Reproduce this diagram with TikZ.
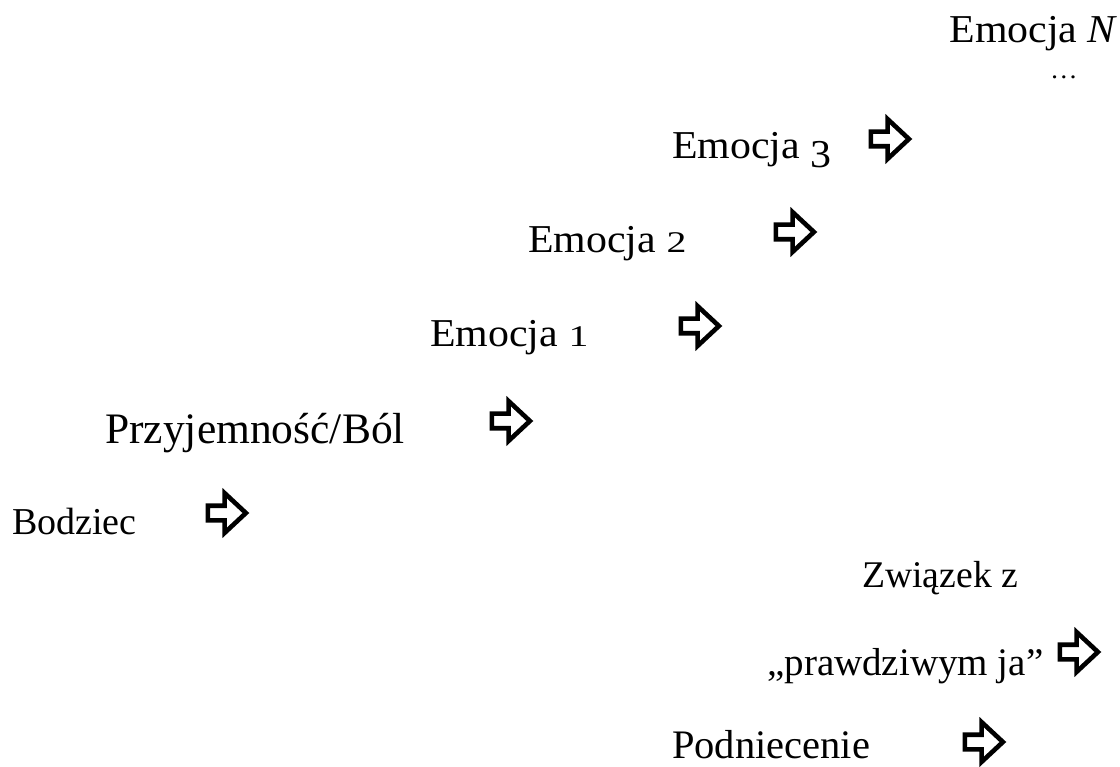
\documentclass[tikz,border=0pt]{standalone}
\usepackage{graphicx}
\usepackage{fontspec}
\setmainfont{Liberation Serif}
\newfontfamily\geo[FakeStretch=1.06]{Liberation Serif}
\usetikzlibrary{shapes.arrows}
\newcommand\oldthree{\raisebox{-0.21em}{3}}
\newcommand\oldsmall[1]{\scalebox{0.95}[0.76]{#1}}
\tikzset{
  blockarrow/.style={single arrow, draw=black, fill=white, line width=4.6pt,
    minimum height=38pt, minimum width=35pt, inner xsep=0pt, inner ysep=5pt,
    single arrow head extend=12.5pt, single arrow tip angle=86, anchor=center, outer sep=0pt},
  geolabel/.style={anchor=base west, inner sep=0pt, font=\geo\fontsize{39.5pt}{46pt}\selectfont},
  tlabel/.style={anchor=base west, inner sep=0pt, font=\fontsize{#1}{#1}\selectfont},
}
\begin{document}
\begin{tikzpicture}[x=1pt,y=-1pt]
\fill[white] (0,0) rectangle (1120,767);
\useasboundingbox (0,0) rectangle (1120,767);

% Georgia-like labels
\node[geolabel, anchor=base east] (emN) at (1118,43) {Emocja \textit{N}};
\node[anchor=base, inner sep=0pt, font=\geo\fontsize{26pt}{30pt}\selectfont] (dots) at (1064,79) {…};
\node[geolabel] (em3) at (672,159) {Emocja \oldthree};
\node[geolabel] (em2) at (528,253) {Emocja \oldsmall{2}};
\node[geolabel] (em1) at (430,347) {Emocja \oldsmall{1}};

% Times-like labels
\node[tlabel=43.5pt] (pb) at (105,443) {Przyjemność/Ból};
\node[tlabel=38pt] (bod) at (12,534) {Bodziec};
\node[tlabel=37.7pt] (zw) at (862,587) {Związek z};
\node[tlabel=39pt] (pj) at (767,675) {„prawdziwym ja”};
\node[tlabel=40.5pt] (pod) at (672,758) {Podniecenie};

% block arrows
\node[blockarrow] (a3) at (886,139) {};
\node[blockarrow] (a2) at (791,232) {};
\node[blockarrow] (a1) at (696,326) {};
\node[blockarrow] (apb) at (507,421) {};
\node[blockarrow] (abod) at (223,513) {};
\node[blockarrow] (apj) at (1075,652) {};
\node[blockarrow] (apod) at (980,742) {};
\end{tikzpicture}
\end{document}
